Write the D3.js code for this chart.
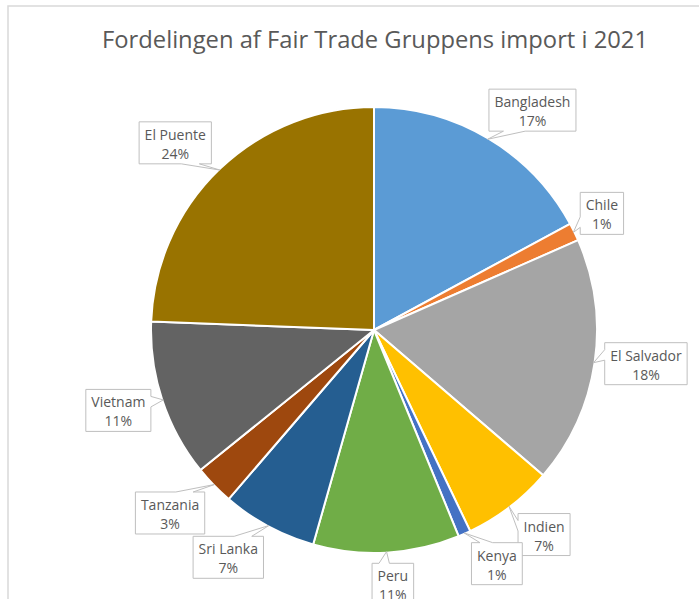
<!DOCTYPE html>
<html>
<head>
<meta charset="utf-8">
<script src="https://cdn.jsdelivr.net/npm/d3@7"></script>
<style>
  html, body { margin: 0; padding: 0; background: #fff; }
  svg { display: block; font-family: "Open Sans", "Noto Sans", sans-serif; }
</style>
</head>
<body>
<div id="chart"></div>
<script>
// data
const title = "Fordelingen af Fair Trade Gruppens import i 2021";
const countries = ["Bangladesh", "Chile", "El Salvador", "Indien", "Kenya", "Peru", "Sri Lanka", "Tanzania", "Vietnam", "El Puente"];
const shares = [17.1, 1.3, 17.9, 6.6, 0.9, 10.6, 6.9, 2.9, 11.4, 24.4];
const colors = ["#5B9BD5", "#ED7D31", "#A5A5A5", "#FFC000", "#4472C4", "#70AD47", "#255E91", "#9E480E", "#636363", "#997300"];

// label placement (angle shift in degrees, distance from centre)
const labelShift = [[5, 271], [-1, 256], [-1.4, 274], [-2.3, 266], [-3.8, 264], [-1, 255], [4.4, 270], [2.2, 274], [0.9, 268], [-2.8, 273]];

const W = 699, H = 599;
const cx = 374, cy = 330, R = 223;
const textColor = "#595959";

const svg = d3.select("#chart").append("svg")
    .attr("width", W)
    .attr("height", H);

svg.append("rect").attr("width", W).attr("height", H).attr("fill", "#fff");

// chart area border (only top / left visible)
svg.append("rect")
    .attr("x", 8).attr("y", 6)
    .attr("width", W + 20).attr("height", H + 20)
    .attr("fill", "none")
    .attr("stroke", "#D9D9D9")
    .attr("stroke-width", 1.5);

// title, scaled to the reference width
const t = svg.append("text")
    .attr("x", 375).attr("y", 48)
    .attr("text-anchor", "middle")
    .attr("fill", textColor)
    .style("font-size", "24px")
    .text(title);
const tw = t.node().getComputedTextLength();
t.style("font-size", (24 * 546 / tw) + "px");

const total = d3.sum(shares);
const rows = countries.map((c, i) => ({ name: c, value: shares[i], color: colors[i], i }));

const pie = d3.pie().sort(null).value(d => d.value);
const arc = d3.arc().innerRadius(0).outerRadius(R);
const arcs = pie(rows);

const g = svg.append("g").attr("transform", `translate(${cx},${cy})`);

g.selectAll("path")
    .data(arcs)
    .enter()
    .append("path")
    .attr("d", arc)
    .attr("fill", d => d.data.color)
    .attr("stroke", "#fff")
    .attr("stroke-width", 2)
    .attr("stroke-linejoin", "round");

// callout path like Excel's wedgeRectCallout
function callout(x0, y0, w, h, tx, ty) {
    const dxPos = tx - (x0 + w / 2), dyPos = ty - (y0 + h / 2);
    const p = d3.path();
    if (Math.abs(dyPos) / h >= Math.abs(dxPos) / w) {
        const x1 = x0 + w * (dxPos > 0 ? 7 : 2) / 12, x2 = x0 + w * (dxPos > 0 ? 10 : 5) / 12;
        if (dyPos < 0) {
            p.moveTo(x0, y0); p.lineTo(x1, y0); p.lineTo(tx, ty); p.lineTo(x2, y0);
            p.lineTo(x0 + w, y0); p.lineTo(x0 + w, y0 + h); p.lineTo(x0, y0 + h);
        } else {
            p.moveTo(x0, y0); p.lineTo(x0 + w, y0); p.lineTo(x0 + w, y0 + h);
            p.lineTo(x2, y0 + h); p.lineTo(tx, ty); p.lineTo(x1, y0 + h); p.lineTo(x0, y0 + h);
        }
    } else {
        const y1 = y0 + h * (dyPos > 0 ? 7 : 2) / 12, y2 = y0 + h * (dyPos > 0 ? 10 : 5) / 12;
        if (dxPos < 0) {
            p.moveTo(x0, y0); p.lineTo(x0 + w, y0); p.lineTo(x0 + w, y0 + h); p.lineTo(x0, y0 + h);
            p.lineTo(x0, y2); p.lineTo(tx, ty); p.lineTo(x0, y1);
        } else {
            p.moveTo(x0, y0); p.lineTo(x0 + w, y0); p.lineTo(x0 + w, y1); p.lineTo(tx, ty);
            p.lineTo(x0 + w, y2); p.lineTo(x0 + w, y0 + h); p.lineTo(x0, y0 + h);
        }
    }
    p.closePath();
    return p.toString();
}

// labels
const labels = svg.append("g").style("font-size", "14px");
arcs.forEach((a, i) => {
    const mid = (a.startAngle + a.endAngle) / 2;
    const ang = mid + labelShift[i][0] * Math.PI / 180;
    const dist = labelShift[i][1];
    const lx = cx + Math.sin(ang) * dist, ly = cy - Math.cos(ang) * dist;
    const tx = cx + Math.sin(mid) * (R - 1), ty = cy - Math.cos(mid) * (R - 1);

    const lg = labels.append("g");
    const box = lg.append("path");
    const t1 = lg.append("text").attr("x", lx).attr("text-anchor", "middle").attr("fill", textColor)
        .text(a.data.name);
    const t2 = lg.append("text").attr("x", lx).attr("text-anchor", "middle").attr("fill", textColor)
        .text(Math.round(a.data.value / total * 100) + "%");
    const w = Math.max(t1.node().getComputedTextLength(), t2.node().getComputedTextLength()) + 11;
    const h = 42;
    const x0 = lx - w / 2, y0 = ly - h / 2;
    t1.attr("y", y0 + 18);
    t2.attr("y", y0 + 37);
    box.attr("d", callout(x0, y0, w, h, tx, ty))
        .attr("fill", "#fff")
        .attr("stroke", "#BFBFBF")
        .attr("stroke-width", 1);
});
</script>
</body>
</html>
